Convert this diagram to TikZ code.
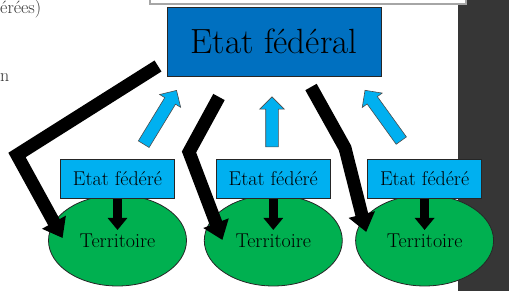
\documentclass[tikz,border=0pt]{standalone}
\usepackage{fontspec}
\usepackage{xcolor}
\definecolor{cFed}{HTML}{0070C0}
\definecolor{cState}{HTML}{00B0F0}
\definecolor{cLand}{HTML}{00B050}
\definecolor{cPanel}{HTML}{363636}
\definecolor{cFrame}{HTML}{A6A6A6}
\usepackage{tikz}
\usetikzlibrary{positioning,arrows.meta,shapes.geometric,shapes.arrows}
\tikzset{
  node-fed/.style={draw=black!85,line width=0.8pt,fill=cFed,
    minimum width=214pt,minimum height=69pt,inner sep=0pt,
    font=\fontsize{35}{40}\selectfont},
  node-state/.style={draw=black!85,line width=0.8pt,fill=cState,
    minimum width=114pt,minimum height=39pt,inner sep=0pt,
    font=\fontsize{20}{22}\selectfont},
  node-land/.style={ellipse,draw=black!85,line width=0.8pt,fill=cLand,
    minimum width=138pt,minimum height=91pt,inner sep=0pt,
    font=\fontsize{20}{22}\selectfont},
  node-frag/.style={anchor=base west,inner sep=0pt,text=black!80,
    font=\fontsize{18}{22}\selectfont},
  arrow-up/.style={single arrow,draw=black!70,line width=0.6pt,fill=cState,
    minimum height=#1,single arrow head extend=6pt,
    inner xsep=0pt,inner ysep=6pt},
  arrow-down/.style={-{Triangle[length=12pt,width=19pt]},line width=9pt},
  arrow-big/.style={-{Triangle[length=18pt,width=26pt]},line width=13pt,
    line join=miter},
}
\begin{document}
\begin{tikzpicture}[x=1pt,y=1pt]
  \useasboundingbox (0,0) rectangle (509,291);
  \clip (0,0) rectangle (509,291);
  % slide background
  \fill[cPanel] (458,0) rectangle (509,291);
  \draw[cFrame,line width=1.5pt,fill=white] (150,287) rectangle (466,300);
  \node[node-frag] (frag1) at (0,277) {érées)};
  \node[node-frag] (frag2) at (0,209) {n};
  % territories and member states
  \node[node-land] (t1) at (117.5,50.5) {Territoire};
  \node[node-land,right=17pt of t1] (t2) {Territoire};
  \node[node-land,right=12.5pt of t2] (t3) {Territoire};
  \node[node-state,above=-4pt of t1] (s1) {Etat fédéré};
  \node[node-state,above=-4pt of t2] (s2) {Etat fédéré};
  \node[node-state,above=-4pt of t3] (s3) {Etat fédéré};
  \node[node-fed] (fed) at (274,249.5) {Etat fédéral};
  \draw[arrow-down,shorten >=10.5pt] (s1.south) -- (t1.center);
  \draw[arrow-down,shorten >=10.5pt] (s2.south) -- (t2.center);
  \draw[arrow-down,shorten >=10.5pt] (s3.south) -- (t3.center);
  % participation arrows
  \node[arrow-up=63pt,rotate=58.6]  (up1) at (158.5,171) {};
  \node[arrow-up=50pt,rotate=90]    (up2) at (272,166)   {};
  \node[arrow-up=62pt,rotate=125.8] (up3) at (385,173)   {};
  % federal power on the territories
  \coordinate (a1s) at (158,225);
  \coordinate (a1b) at (17,136);
  \coordinate (a2s) at (219,194);
  \coordinate (a2b) at (189,139);
  \coordinate (a3s) at (311,204);
  \coordinate (a3b) at (345,143);
  \draw[arrow-big] (a1s) -- (a1b) -- ([xshift=14.5pt,yshift=2.5pt]t1.west);
  \draw[arrow-big] (a2s) -- (a2b) -- ([xshift=18.5pt,yshift=0.5pt]t2.west);
  \draw[arrow-big] (a3s) -- (a3b) -- ([xshift=11pt,yshift=8.5pt]t3.west);
\end{tikzpicture}
\end{document}
